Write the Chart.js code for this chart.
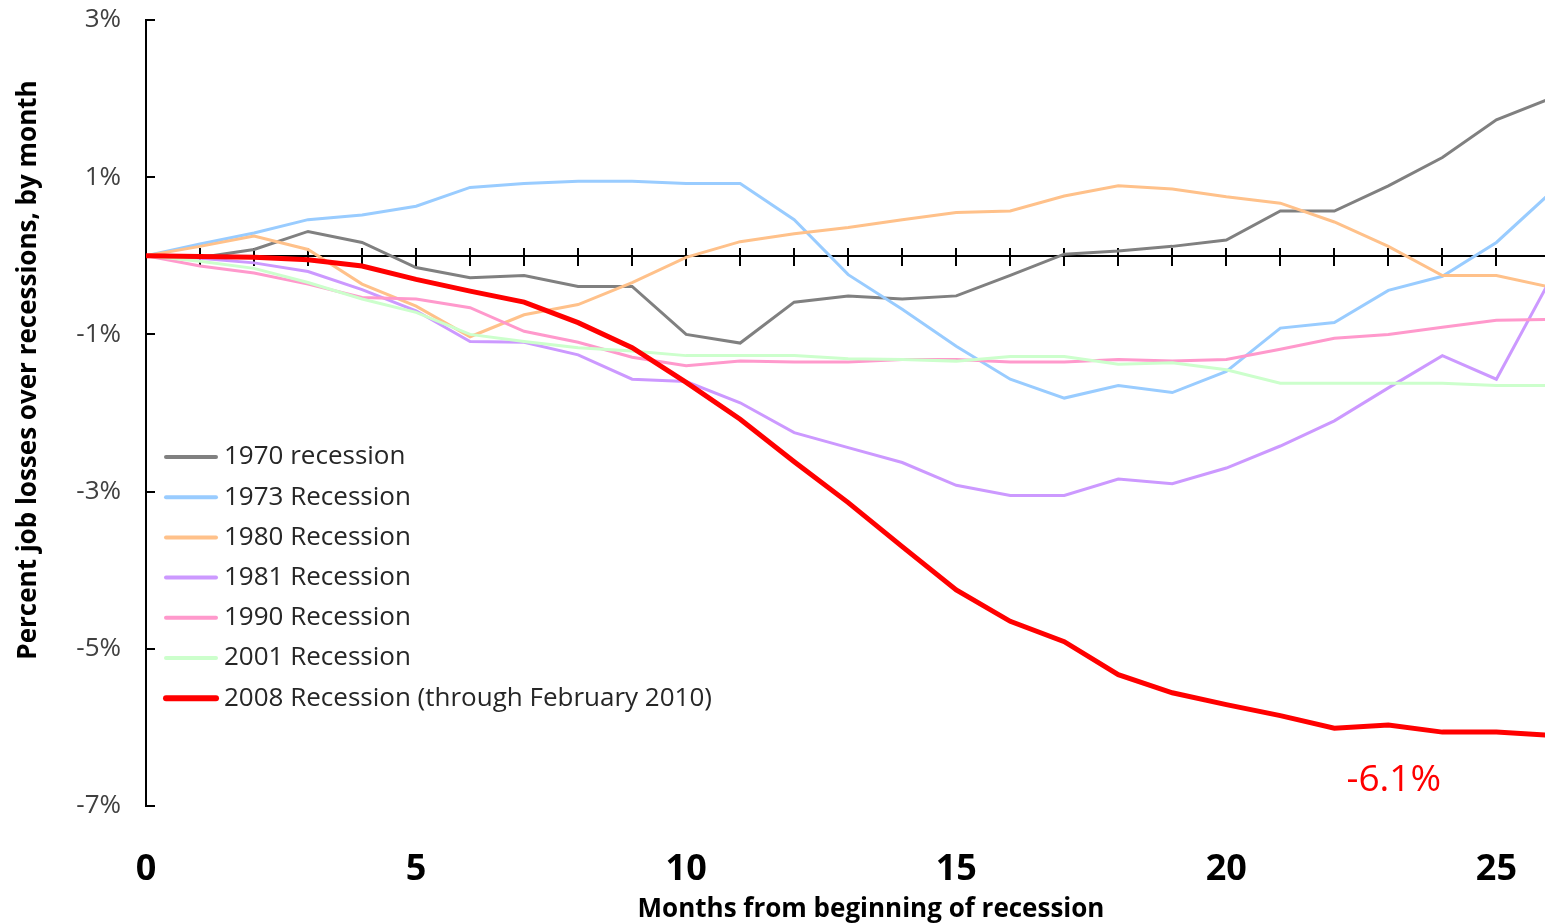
<!DOCTYPE html>
<html>
<head>
<meta charset="utf-8">
<script src="https://cdn.jsdelivr.net/npm/chart.js@4.4.0/dist/chart.umd.min.js"></script>
<style>
  html, body { margin: 0; padding: 0; background: #fff; overflow: hidden; }
  #wrap { width: 1545px; height: 924px; }
  #jobLossChart { display: block; }
</style>
</head>
<body>
<div id="wrap"><canvas id="jobLossChart"></canvas></div>
<script>
// months since start of each recession
const months = [0, 1, 2, 3, 4, 5, 6, 7, 8, 9, 10, 11, 12, 13, 14, 15, 16, 17, 18, 19, 20, 21, 22, 23, 24, 25, 26];

// percent change in payroll jobs
const r1970 = [0, -0.02, 0.08, 0.31, 0.17, -0.15, -0.28, -0.25, -0.39, -0.39, -1.0, -1.11, -0.59, -0.51, -0.55, -0.51, -0.25, 0.02, 0.06, 0.12, 0.2, 0.57, 0.57, 0.89, 1.25, 1.73, 2.0];
const r1973 = [0, 0.15, 0.29, 0.46, 0.52, 0.63, 0.87, 0.92, 0.95, 0.95, 0.92, 0.92, 0.46, -0.24, -0.68, -1.15, -1.57, -1.81, -1.65, -1.74, -1.47, -0.92, -0.85, -0.44, -0.26, 0.17, 0.8];
const r1980 = [0, 0.12, 0.25, 0.08, -0.36, -0.64, -1.03, -0.75, -0.62, -0.34, -0.02, 0.18, 0.28, 0.36, 0.46, 0.55, 0.57, 0.76, 0.89, 0.85, 0.75, 0.67, 0.43, 0.12, -0.25, -0.25, -0.4];
const r1981 = [0, -0.03, -0.09, -0.2, -0.43, -0.7, -1.09, -1.1, -1.26, -1.57, -1.6, -1.87, -2.25, -2.44, -2.63, -2.92, -3.05, -3.05, -2.84, -2.9, -2.7, -2.42, -2.1, -1.68, -1.27, -1.57, -0.3];
const r1990 = [0, -0.13, -0.22, -0.36, -0.53, -0.55, -0.66, -0.96, -1.1, -1.29, -1.4, -1.34, -1.35, -1.35, -1.32, -1.32, -1.35, -1.35, -1.32, -1.34, -1.32, -1.19, -1.05, -1.0, -0.91, -0.82, -0.81];
const r2001 = [0, -0.07, -0.16, -0.34, -0.55, -0.72, -1.0, -1.09, -1.17, -1.21, -1.27, -1.27, -1.27, -1.31, -1.32, -1.34, -1.28, -1.28, -1.38, -1.36, -1.45, -1.62, -1.62, -1.62, -1.62, -1.65, -1.65];
const r2008 = [0, -0.01, -0.02, -0.05, -0.13, -0.3, -0.45, -0.59, -0.85, -1.17, -1.61, -2.08, -2.62, -3.14, -3.7, -4.25, -4.65, -4.91, -5.33, -5.56, -5.71, -5.85, -6.01, -5.97, -6.06, -6.06, -6.1];

const seriesNames = ['1970 recession', '1973 Recession', '1980 Recession', '1981 Recession',
  '1990 Recession', '2001 Recession', '2008 Recession (through February 2010)'];
const seriesData = [r1970, r1973, r1980, r1981, r1990, r2001, r2008];
const seriesColors = ['#808080', '#99ccff', '#ffc18a', '#cc99ff', '#ff99cc', '#ccffcc', '#ff0000'];
const seriesWidths = [3, 3, 3, 3, 3, 3, 5];

const yTicks = [-7, -5, -3, -1, 1, 3];
const lastLabel = '-6.1%';

const FONT = '"Open Sans", Lato, sans-serif';

// drop the label overhang chart.js reserves, so the plot area stays where we put it
const noOverhang = s => {
  s.paddingTop = 0;
  s.paddingBottom = 0;
  s.paddingLeft = 0;
  s.paddingRight = 0;
};

// zero line with month ticks, inward ticks on the y axis
const axisDecor = {
  id: 'axisDecor',
  beforeDatasetsDraw(chart) {
    const { ctx, chartArea, scales: { x, y } } = chart;
    const y0 = Math.round(y.getPixelForValue(0));
    ctx.save();
    ctx.strokeStyle = '#000';
    ctx.lineWidth = 2;
    ctx.beginPath();
    ctx.moveTo(chartArea.left, y0);
    ctx.lineTo(chartArea.right, y0);
    months.forEach(m => {
      if (m === 0) return;
      const px = Math.round(x.getPixelForValue(m));
      if (px > chartArea.right) return;
      ctx.moveTo(px, y0 - 8);
      ctx.lineTo(px, y0 + 10);
    });
    yTicks.forEach(v => {
      const py = Math.round(y.getPixelForValue(v));
      ctx.moveTo(chartArea.left, py);
      ctx.lineTo(chartArea.left + 9, py);
    });
    ctx.stroke();
    ctx.restore();
  },
  afterDatasetsDraw(chart) {
    const { ctx, scales: { x, y } } = chart;
    ctx.save();
    // legend
    chart.data.datasets.forEach((ds, i) => {
      const ly = 457 + i * 40.2;
      ctx.strokeStyle = ds.borderColor;
      ctx.lineWidth = ds.borderWidth + 1;
      ctx.lineCap = 'round';
      ctx.beginPath();
      ctx.moveTo(166, ly);
      ctx.lineTo(216, ly);
      ctx.stroke();
      ctx.fillStyle = '#262626';
      ctx.font = '26px ' + FONT;
      ctx.textAlign = 'left';
      ctx.textBaseline = 'middle';
      ctx.fillText(ds.label, 224, ly);
    });
    // end value note
    ctx.fillStyle = '#ff0000';
    ctx.font = '37px ' + FONT;
    ctx.textAlign = 'center';
    ctx.textBaseline = 'middle';
    ctx.fillText(lastLabel, x.getPixelForValue(23.1), y.getPixelForValue(-6.67));
    // axis titles
    ctx.fillStyle = '#000';
    ctx.font = 'bold 26px ' + FONT;
    ctx.fillText('Months from beginning of recession', 871, 910);
    ctx.translate(29, 370);
    ctx.rotate(-Math.PI / 2);
    ctx.fillText('Percent job losses over recessions, by month', 0, 0);
    ctx.restore();
  }
};

const ctx = document.getElementById('jobLossChart').getContext('2d');
new Chart(ctx, {
  type: 'line',
  data: {
    labels: months,
    datasets: seriesNames.map((name, i) => ({
      label: name,
      data: seriesData[i],
      borderColor: seriesColors[i],
      backgroundColor: seriesColors[i],
      borderWidth: seriesWidths[i],
      pointRadius: 0,
      tension: 0,
      order: seriesNames.length - i
    }))
  },
  options: {
    responsive: true,
    maintainAspectRatio: false,
    animation: false,
    layout: { padding: { top: 20, left: 0, right: 0, bottom: 0 } },
    plugins: {
      legend: { display: false },
      tooltip: { enabled: false }
    },
    scales: {
      x: {
        type: 'linear',
        min: 0,
        max: 25.9,
        grid: { display: false, drawTicks: false },
        border: { display: false },
        ticks: {
          stepSize: 5,
          includeBounds: false,
          padding: 42,
          color: '#000',
          font: { family: FONT, size: 36, weight: 'bold' }
        },
        afterFit: s => { s.height = 118; noOverhang(s); }
      },
      y: {
        min: -7,
        max: 3,
        grid: { display: false, drawTicks: false },
        border: { display: true, color: '#000', width: 2 },
        ticks: {
          stepSize: 2,
          padding: 25,
          color: '#404040',
          font: { family: FONT, size: 26 },
          callback: v => v + '%'
        },
        afterFit: s => { s.width = 146; noOverhang(s); }
      }
    }
  },
  plugins: [axisDecor]
});
</script>
</body>
</html>
